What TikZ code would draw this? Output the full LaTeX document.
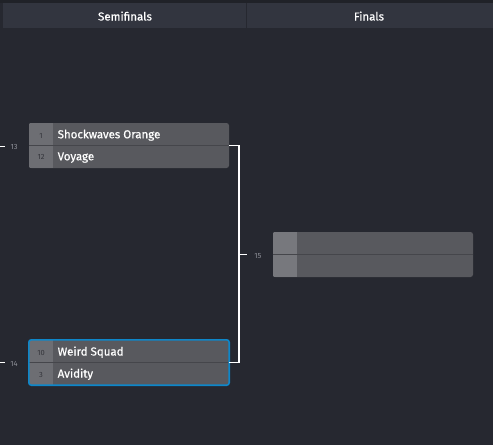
\documentclass[tikz,border=0pt]{standalone}
\usepackage{fontspec}
\setmainfont{Fira Sans}
\newfontfamily\teamfont[FakeBold=0.6]{Fira Sans}
\definecolor{bg}{HTML}{262830}
\definecolor{bgtop}{HTML}{202228}
\definecolor{hdr}{HTML}{32353F}
\definecolor{box}{HTML}{58595E}
\definecolor{seedc}{HTML}{6D6E73}
\definecolor{seedf}{HTML}{77787D}
\definecolor{divc}{HTML}{45464B}
\definecolor{blueb}{HTML}{0E87C9}
\definecolor{lbl}{HTML}{8E9098}
\definecolor{seedtxt}{HTML}{34353B}
\tikzset{
  hdrcell/.style={fill=hdr, minimum height=25pt, inner sep=0pt},
  hdrtext/.style={text=white, font=\teamfont\fontsize{11.5}{13}\selectfont, inner sep=0pt, anchor=base},
  matchbox/.style={fill=box, rounded corners=2.5pt, minimum width=200pt, minimum height=45pt, inner sep=0pt},
  seedtext/.style={text=seedtxt, font=\fontsize{7.5}{9}\selectfont, inner sep=0pt, anchor=base},
  team/.style={text=white, font=\teamfont\fontsize{11.5}{13}\selectfont, anchor=base west, inner sep=0pt},
  rnd/.style={text=lbl, font=\fontsize{7.5}{9}\selectfont, inner sep=0pt, anchor=base},
  conn/.style={draw=white, line width=1.6pt},
  divline/.style={draw=divc, line width=1pt}
}
\begin{document}
\begin{tikzpicture}[x=1pt,y=-1pt]
\useasboundingbox (0,0) rectangle (493,445);
\fill[bg] (0,0) rectangle (493,445);
\fill[bgtop] (0,0) rectangle (493,3);
% header
\node[hdrcell, minimum width=243pt] (h1) at (124.5,15.5) {};
\node[hdrcell, minimum width=246pt] (h2) at (370,15.5) {};
\node[hdrtext] (h1t) at (125,20.5) {Semifinals};
\node[hdrtext] (h2t) at (369,20.5) {Finals};
% match 1
\node[matchbox] (m1) at (129,145.5) {};
\begin{scope}
\clip[rounded corners=2.5pt] (m1.north west) rectangle (m1.south east);
\fill[seedc] (m1.north west) rectangle ([xshift=24pt]m1.south west);
\end{scope}
\draw[divline] (m1.west) -- (m1.east);
\node[seedtext] (s1) at (41,138) {1};
\node[seedtext] (s12) at (41,159.5) {12};
\node[team] (t1) at (57.5,138.3) {Shockwaves Orange};
\node[team] (t12) at (57.5,160.3) {Voyage};
% match 2
\node[matchbox] (m2) at (129,362.5) {};
\begin{scope}
\clip[rounded corners=2.5pt] (m2.north west) rectangle (m2.south east);
\fill[seedc] (m2.north west) rectangle ([xshift=24pt]m2.south west);
\end{scope}
\draw[divline] (m2.west) -- (m2.east);
\draw[blueb, line width=1.6pt, rounded corners=2.5pt] (m2.north west) rectangle (m2.south east);
\node[seedtext] (s10) at (41,355) {10};
\node[seedtext] (s3) at (41,377) {3};
\node[team] (t10) at (57.5,355.5) {Weird Squad};
\node[team] (t3) at (57.5,377.5) {Avidity};
% final
\node[matchbox] (m3) at (373,254.5) {};
\begin{scope}
\clip[rounded corners=2.5pt] (m3.north west) rectangle (m3.south east);
\fill[seedf] (m3.north west) rectangle ([xshift=24pt]m3.south west);
\end{scope}
\draw[divline] (m3.west) -- (m3.east);
% connectors
\draw[conn] (m1.east) -- ++(10,0) coordinate (j1) |- (m2.east);
\coordinate (j) at (239,254.5);
\coordinate (t15) at (247,254.5);
\draw[conn] (j) -- (t15);
\node[rnd] (r15) at (258,258) {15};
\coordinate (a13) at (0,146.5);
\coordinate (b13) at (5,146.5);
\draw[conn] (a13) -- (b13);
\node[rnd] (r13) at (14,149) {13};
\coordinate (a14) at (0,362.5);
\coordinate (b14) at (5,362.5);
\draw[conn] (a14) -- (b14);
\node[rnd] (r14) at (14,366) {14};
\end{tikzpicture}
\end{document}
